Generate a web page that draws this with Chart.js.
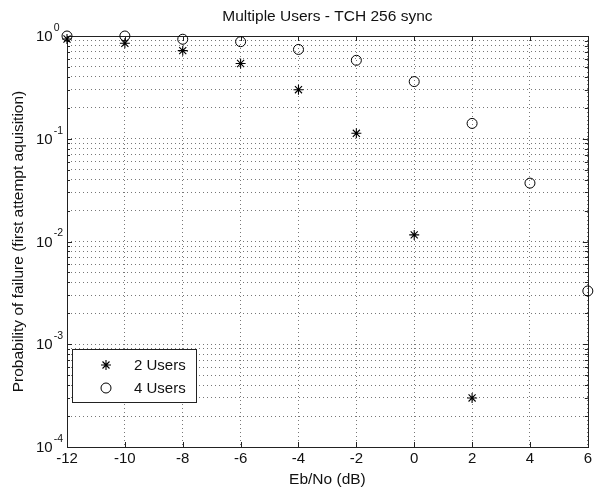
<!DOCTYPE html>
<html lang="en">
<head>
<meta charset="UTF-8">
<title>Multiple Users - TCH 256 sync</title>
<script src="https://cdn.jsdelivr.net/npm/chart.js"></script>
<style>
  body { margin: 0; background: #fff; }
</style>
</head>
<body>
<canvas id="chart" width="595" height="489"></canvas>
<script>
// Eb/No (dB) on the x axis
const ebno = [-12, -10, -8, -6, -4, -2, 0, 2, 4, 6];
// probability of failure
const twoUsers = [0.935, 0.85, 0.72, 0.54, 0.30, 0.113, 0.0116, 0.0003];
const fourUsers = [1.0, 1.0, 0.93, 0.88, 0.74, 0.58, 0.36, 0.141, 0.037, 0.0033];
const seriesNames = ['2 Users', '4 Users'];
const xTicks = [-12, -10, -8, -6, -4, -2, 0, 2, 4, 6];
const yExponents = [0, -1, -2, -3, -4];

const FONT = '"Liberation Sans", Arial, Helvetica, sans-serif';
const INK = '#111';

// grid at 1..9 x 10^n like matlab semilogy
function logGridValues() {
    const vals = [];
    const lo = Math.min(...yExponents), hi = Math.max(...yExponents);
    for (let e = lo; e < hi; e++) {
        for (let m = 1; m < 10; m++) vals.push(m * Math.pow(10, e));
    }
    vals.push(Math.pow(10, hi));
    return vals;
}
const yGrid = logGridValues();

function drawMarker(ctx, style, x, y, r) {
    ctx.beginPath();
    if (style === 'star') {
        ctx.moveTo(x - r, y); ctx.lineTo(x + r, y);
        ctx.moveTo(x, y - r); ctx.lineTo(x, y + r);
        const d = r * 0.7;
        ctx.moveTo(x - d, y - d); ctx.lineTo(x + d, y + d);
        ctx.moveTo(x - d, y + d); ctx.lineTo(x + d, y - d);
    } else {
        ctx.arc(x, y, r, 0, Math.PI * 2);
    }
    ctx.stroke();
}

const matlabAxes = {
    id: 'matlabAxes',
    beforeDatasetsDraw(chart) {
        const {ctx, chartArea: a, scales} = chart;
        ctx.save();
        ctx.strokeStyle = '#222';
        ctx.lineWidth = 1;
        ctx.strokeRect(Math.round(a.left) + 0.5, Math.round(a.top) + 0.5,
            Math.round(a.right - a.left), Math.round(a.bottom - a.top));
        ctx.beginPath();
        // inward tick marks
        yGrid.forEach(v => {
            const y = Math.round(scales.y.getPixelForValue(v)) + 0.5;
            const major = Math.abs(Math.log10(v) - Math.round(Math.log10(v))) < 1e-9;
            const len = major ? 5 : 3;
            ctx.moveTo(a.left, y); ctx.lineTo(a.left + len, y);
            ctx.moveTo(a.right, y); ctx.lineTo(a.right - len, y);
        });
        xTicks.forEach(v => {
            const x = Math.round(scales.x.getPixelForValue(v)) + 0.5;
            ctx.moveTo(x, a.bottom); ctx.lineTo(x, a.bottom - 5);
            ctx.moveTo(x, a.top); ctx.lineTo(x, a.top + 5);
        });
        ctx.stroke();
        ctx.restore();
    },
    afterDraw(chart) {
        const {ctx, chartArea: a, scales} = chart;
        ctx.save();
        ctx.fillStyle = INK;
        ctx.textAlign = 'left';
        ctx.textBaseline = 'middle';
        // y labels as 10 with raised exponent
        yExponents.forEach(e => {
            const y = scales.y.getPixelForValue(Math.pow(10, e));
            ctx.font = '15px ' + FONT;
            ctx.fillText('10', 36, y + 1);
            const w = ctx.measureText('10').width;
            ctx.font = '10.5px ' + FONT;
            ctx.fillText(String(e), 36 + w + 1, y - 8);
        });

        // legend box, bottom left inside the axes
        const bx = a.left + 5, by = a.bottom - 98, bw = 124, bh = 53;
        ctx.fillStyle = '#fff';
        ctx.fillRect(bx, by, bw, bh);
        ctx.strokeStyle = '#222';
        ctx.lineWidth = 1;
        ctx.strokeRect(Math.round(bx) + 0.5, Math.round(by) + 0.5, bw, bh);
        chart.data.datasets.forEach((ds, i) => {
            const y = by + 16 + i * 23;
            ctx.strokeStyle = ds.borderColor;
            ctx.lineWidth = ds.borderWidth;
            drawMarker(ctx, ds.pointStyle, bx + 34, y, ds.pointRadius);
            ctx.fillStyle = INK;
            ctx.font = '15px ' + FONT;
            ctx.fillText(ds.label, bx + 62, y + 1);
        });
        ctx.restore();
    }
};

const gridOpts = { color: '#777', lineWidth: 1, drawTicks: false };

new Chart(document.getElementById('chart'), {
    type: 'scatter',
    data: {
        datasets: [
            {
                label: seriesNames[0],
                data: twoUsers.map((v, i) => ({x: ebno[i], y: v})),
                pointStyle: 'star',
                pointRadius: 5,
                borderColor: '#000',
                backgroundColor: '#000',
                borderWidth: 1.1,
                clip: false
            },
            {
                label: seriesNames[1],
                data: fourUsers.map((v, i) => ({x: ebno[i], y: v})),
                pointStyle: 'circle',
                pointRadius: 5,
                borderColor: '#000',
                backgroundColor: 'rgba(0,0,0,0)',
                borderWidth: 1,
                clip: false
            }
        ]
    },
    options: {
        responsive: false,
        animation: false,
        layout: { padding: { left: 0, right: 7, top: 0, bottom: 0 } },
        plugins: {
            legend: { display: false },
            tooltip: { enabled: false },
            title: {
                display: true,
                text: 'Multiple Users - TCH 256 sync',
                color: INK,
                fullSize: false,
                font: { family: FONT, size: 15.5, weight: 'normal' },
                padding: { top: 7, bottom: 10.4 }
            }
        },
        scales: {
            x: {
                type: 'linear',
                min: -12,
                max: 6,
                afterBuildTicks: s => { s.ticks = xTicks.map(v => ({value: v})); },
                afterFit: s => { s.height = 42; },
                ticks: { color: INK, font: { family: FONT, size: 15 }, padding: 3 },
                grid: gridOpts,
                border: { display: false, dash: [1, 3] },
                title: {
                    display: true,
                    text: 'Eb/No (dB)',
                    color: INK,
                    font: { family: FONT, size: 15.5 },
                    padding: { top: 0, bottom: 0 }
                }
            },
            y: {
                type: 'logarithmic',
                min: 1e-4,
                max: 1,
                afterBuildTicks: s => { s.ticks = yGrid.map(v => ({value: v})); },
                afterFit: s => { s.width = 67; },
                ticks: { display: false },
                grid: gridOpts,
                border: { display: false, dash: [1, 3] },
                title: {
                    display: true,
                    text: 'Probability of failure (first attempt aquisition)',
                    color: INK,
                    font: { family: FONT, size: 15.5 },
                    padding: { top: 9, bottom: 0 }
                }
            }
        }
    },
    plugins: [matlabAxes]
});
</script>
</body>
</html>
